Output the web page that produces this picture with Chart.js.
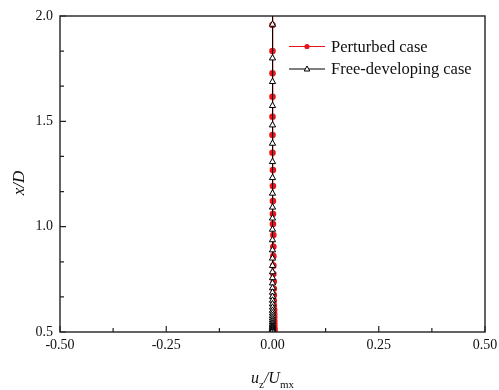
<!DOCTYPE html>
<html>
<head>
<meta charset="utf-8">
<script src="https://cdn.jsdelivr.net/npm/chart.js@4/dist/chart.umd.min.js"></script>
<style>
  html, body { margin: 0; padding: 0; background: #fff; }
  #wrap { width: 499px; height: 390px; }
</style>
</head>
<body>
<div id="wrap"><canvas id="c" width="499" height="390"></canvas></div>
<script>
// ---- data ----
const seriesNames = ['Perturbed case', 'Free-developing case'];

const perturbedY = [2.000, 1.957, 1.834, 1.728, 1.617, 1.522, 1.435, 1.351, 1.269, 1.193, 1.122,
  1.060, 1.013, 0.960, 0.905, 0.860, 0.815, 0.775, 0.740, 0.705, 0.675, 0.648, 0.625, 0.604,
  0.586, 0.570, 0.556, 0.544, 0.534, 0.525, 0.518, 0.512, 0.507, 0.503, 0.500];
const perturbedX = [0.000, 0.000, 0.000, 0.000, 0.000, 0.000, 0.000, 0.000, 0.001, 0.001, 0.001,
  0.001, 0.001, 0.002, 0.002, 0.002, 0.002, 0.002, 0.003, 0.003, 0.003, 0.003, 0.003, 0.004,
  0.004, 0.004, 0.004, 0.004, 0.004, 0.004, 0.004, 0.004, 0.004, 0.004, 0.004];

const freeY = [2.000, 1.960, 1.800, 1.688, 1.574, 1.482, 1.395, 1.308, 1.232, 1.158, 1.092,
  1.040, 0.987, 0.937, 0.889, 0.850, 0.815, 0.785, 0.757, 0.732, 0.709, 0.688, 0.668, 0.650,
  0.633, 0.617, 0.602, 0.589, 0.577, 0.566, 0.556, 0.547, 0.539, 0.532, 0.526, 0.521, 0.516,
  0.512, 0.509, 0.506, 0.503, 0.500];
const freeX = [0.000, 0.000, 0.000, 0.000, 0.000, 0.000, 0.000, 0.000, 0.000, 0.000, 0.000,
  0.000, 0.000, 0.000, 0.000, 0.000, 0.000, 0.000, 0.000, 0.000, 0.000, 0.000, 0.000, 0.000,
  0.000, 0.000, 0.000, 0.000, 0.000, 0.000, 0.000, 0.000, 0.000, 0.000, 0.000, 0.000, 0.000,
  0.000, 0.000, 0.000, 0.000, 0.000];

const xMajorTicks = [-0.50, -0.25, 0.00, 0.25, 0.50];
const xMinorTicks = [-0.375, -0.125, 0.125, 0.375];
const yMajorTicks = [0.5, 1.0, 1.5, 2.0];
const yMinorTicks = [0.6667, 0.8333, 1.1667, 1.3333, 1.6667, 1.8333];

const xTitleParts = [['u', 'main'], ['z', 'sub'], ['/U', 'main'], ['mx', 'sub']];
const yTitle = 'x/D';

// ---- build ----
const toPts = (xs, ys) => ys.map((y, i) => ({ x: xs[i], y: y }));
const RED = '#e8141c';
const SERIF = '"Liberation Serif", "Times New Roman", serif';

const hideEnds = (ctx, r) => {
  const n = ctx.dataset.data.length;
  return (ctx.dataIndex === 0 || ctx.dataIndex === n - 1) ? 0 : r;
};

const framePlugin = {
  id: 'frame',
  afterDatasetsDraw(chart) {
    const { ctx, chartArea: a, scales } = chart;
    const xs = scales.x, ys = scales.y;
    ctx.save();
    ctx.strokeStyle = '#222';
    ctx.lineWidth = 1.4;
    ctx.strokeRect(a.left, a.top, a.right - a.left, a.bottom - a.top);
    ctx.lineWidth = 1.2;
    ctx.beginPath();
    xMajorTicks.forEach(v => { const p = xs.getPixelForValue(v); ctx.moveTo(p, a.bottom); ctx.lineTo(p, a.bottom - 6); });
    xMinorTicks.forEach(v => { const p = xs.getPixelForValue(v); ctx.moveTo(p, a.bottom); ctx.lineTo(p, a.bottom - 4); });
    yMajorTicks.forEach(v => { const p = ys.getPixelForValue(v); ctx.moveTo(a.left, p); ctx.lineTo(a.left + 6, p); });
    yMinorTicks.forEach(v => { const p = ys.getPixelForValue(v); ctx.moveTo(a.left, p); ctx.lineTo(a.left + 4, p); });
    ctx.stroke();

    // legend
    const items = chart.data.datasets;
    const lx0 = 289, lx1 = 325, tx = 331;
    const rows = [46.5, 69];
    ctx.font = '16.5px ' + SERIF;
    ctx.textBaseline = 'middle';
    ctx.textAlign = 'left';
    items.slice().sort((p, q) => p.legendIndex - q.legendIndex).forEach((ds, i) => {
      const y = rows[i];
      ctx.strokeStyle = ds.borderColor;
      ctx.lineWidth = 1;
      ctx.beginPath(); ctx.moveTo(lx0, y); ctx.lineTo(lx1, y); ctx.stroke();
      const mx = (lx0 + lx1) / 2;
      if (ds.pointStyle === 'triangle') {
        ctx.fillStyle = '#fff';
        ctx.strokeStyle = '#000';
        ctx.beginPath();
        ctx.moveTo(mx, y - 3); ctx.lineTo(mx + 2.8, y + 2); ctx.lineTo(mx - 2.8, y + 2); ctx.closePath();
        ctx.fill(); ctx.stroke();
      } else {
        ctx.fillStyle = ds.pointBackgroundColor;
        ctx.beginPath(); ctx.arc(mx, y, 2.6, 0, Math.PI * 2); ctx.fill();
      }
      ctx.fillStyle = '#111';
      ctx.fillText(ds.label, tx, y + 1);
    });

    // x title
    ctx.fillStyle = '#111';
    ctx.textBaseline = 'alphabetic';
    let x = 251;
    xTitleParts.forEach(([t, kind]) => {
      if (kind === 'main') { ctx.font = 'italic 16px ' + SERIF; ctx.fillText(t, x, 383); }
      else { ctx.font = '11px ' + SERIF; ctx.fillText(t, x, 388); }
      x += ctx.measureText(t).width;
    });

    // y title
    ctx.save();
    ctx.translate(20, 183);
    ctx.rotate(-Math.PI / 2);
    ctx.font = 'italic 17px ' + SERIF;
    ctx.textAlign = 'center';
    ctx.textBaseline = 'middle';
    ctx.fillText(yTitle, 0, 0);
    ctx.restore();
    ctx.restore();
  }
};

new Chart(document.getElementById('c'), {
  type: 'scatter',
  data: {
    datasets: [
      {
        label: seriesNames[0],
        legendIndex: 0,
        order: 1,
        data: toPts(perturbedX, perturbedY),
        showLine: true,
        borderColor: RED,
        borderWidth: 1,
        pointStyle: 'circle',
        pointBackgroundColor: RED,
        pointBorderColor: RED,
        pointBorderWidth: 0,
        pointRadius: c => hideEnds(c, 3.3),
        pointHoverRadius: 0
      },
      {
        label: seriesNames[1],
        legendIndex: 1,
        order: 0,
        data: toPts(freeX, freeY),
        showLine: true,
        borderColor: '#000',
        borderWidth: 1,
        pointStyle: 'triangle',
        pointBackgroundColor: '#fff',
        pointBorderColor: '#000',
        pointBorderWidth: 1,
        pointRadius: c => hideEnds(c, 3.6),
        pointHoverRadius: 0
      }
    ]
  },
  options: {
    responsive: false,
    animation: false,
    events: [],
    layout: { padding: { top: 16, right: 14, left: 0, bottom: 0 } },
    plugins: { legend: { display: false }, tooltip: { enabled: false } },
    scales: {
      x: {
        type: 'linear', min: -0.5, max: 0.5,
        grid: { display: false, drawTicks: false },
        border: { display: false },
        afterBuildTicks: s => { s.ticks = xMajorTicks.map(v => ({ value: v })); },
        afterFit: s => { s.height = 58; s.paddingLeft = 0; s.paddingRight = 0; },
        ticks: {
          padding: 5, color: '#111', maxRotation: 0, autoSkip: false,
          font: { family: SERIF, size: 14 },
          callback: v => Number(v).toFixed(2)
        }
      },
      y: {
        type: 'linear', min: 0.5, max: 2.0,
        grid: { display: false, drawTicks: false },
        border: { display: false },
        afterBuildTicks: s => { s.ticks = yMajorTicks.map(v => ({ value: v })); },
        afterFit: s => { s.width = 60; s.paddingTop = 0; s.paddingBottom = 0; },
        ticks: {
          padding: 7, color: '#111', autoSkip: false,
          font: { family: SERIF, size: 14 },
          callback: v => Number(v).toFixed(1)
        }
      }
    }
  },
  plugins: [framePlugin]
});
</script>
</body>
</html>
